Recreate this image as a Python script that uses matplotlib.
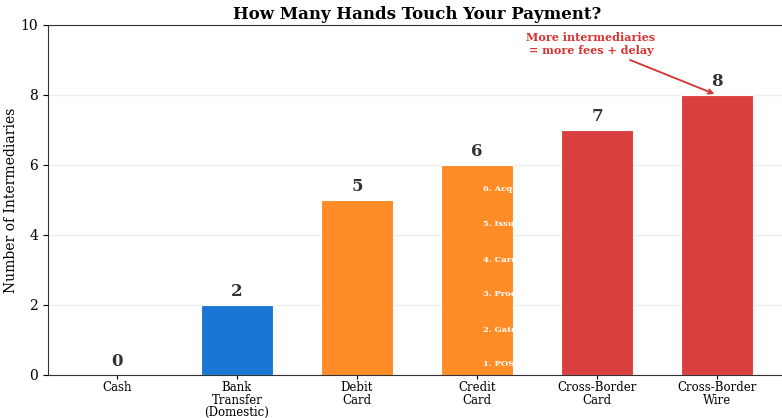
import matplotlib.pyplot as plt

plt.rcParams['font.family'] = 'DejaVu Serif'

methods = ['Cash', 'Bank\nTransfer\n(Domestic)', 'Debit\nCard', 'Credit\nCard',
           'Cross-Border\nCard', 'Cross-Border\nWire']
hands = [0, 2, 5, 6, 7, 8]
colors = ['#9e9e9e', '#1976d2', '#ff8c26', '#ff8c26', '#d93f3f', '#d93f3f']
credit_steps = ['1. POS', '2. Gateway', '3. Processor', '4. Card Network',
                '5. Issuer', '6. Acquirer']

fig = plt.figure(figsize=(7.82, 4.18), dpi=100)
ax = fig.add_axes([48 / 782, 43 / 418, 738 / 782, 350 / 418])

x = range(len(methods))
bars = ax.bar(x, hands, width=0.6, color=colors, edgecolor='white', linewidth=0.8, zorder=2)

for i, v in enumerate(hands):
    ax.text(i, v + 0.15, str(v), ha='center', va='bottom', fontsize=12,
            fontweight='bold', color='#333333')

# steps written inside the credit card bar (white text, spills onto white bg)
for k, step in enumerate(credit_steps):
    ax.text(3.05, k + 0.3, step, ha='left', va='center', fontsize=6,
            fontweight='bold', color='white', zorder=3)

ax.annotate('More intermediaries\n= more fees + delay', xy=(5, 8.0), xytext=(3.95, 9.45),
            ha='center', va='center', fontsize=8, fontweight='bold', color='#d93030',
            arrowprops=dict(arrowstyle='->', color='#d93030', lw=1.3))

ax.set_xticks(list(x))
ax.set_xticklabels(methods, fontsize=8.5, linespacing=0.95)
ax.tick_params(axis='x', pad=1.5, length=3)
ax.set_ylim(0, 10)
ax.set_xlim(-0.575, 5.575)
ax.set_yticks([0, 2, 4, 6, 8, 10])
ax.tick_params(axis='y', labelsize=10)
ax.set_ylabel('Number of Intermediaries', fontsize=10, labelpad=2)
ax.set_title('How Many Hands Touch Your Payment?', fontsize=12, fontweight='bold', pad=4)
ax.yaxis.grid(True, color='#eeeeee', linewidth=1, zorder=0)
ax.set_axisbelow(True)
for s in ax.spines.values():
    s.set_color('#333333')

fig.savefig('out.png', dpi=100)
